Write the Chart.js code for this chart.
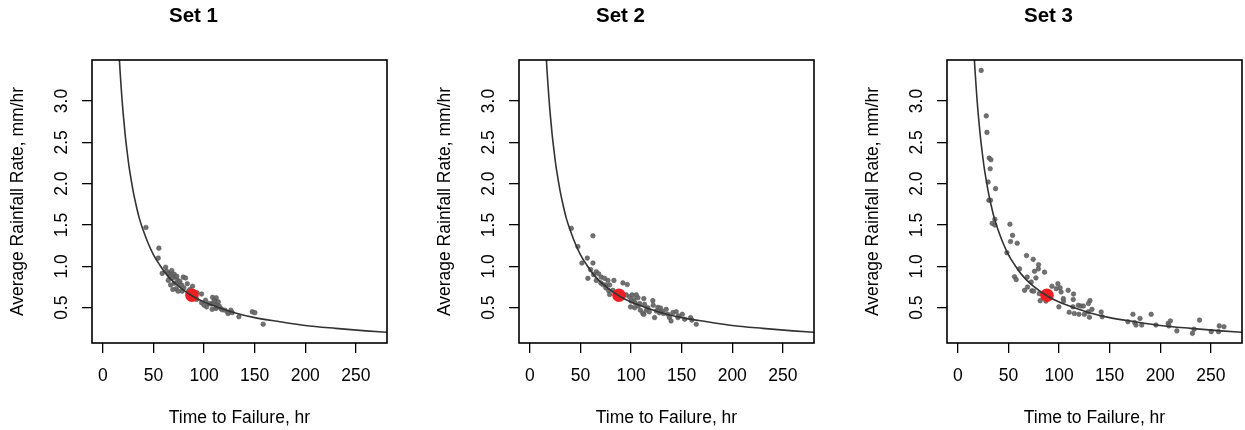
<!DOCTYPE html>
<html>
<head>
<meta charset="utf-8">
<script src="https://cdn.jsdelivr.net/npm/chart.js@4/dist/chart.umd.min.js"></script>
<style>
  html, body { margin: 0; padding: 0; background: #fff; overflow: hidden; }
  body { width: 1245px; height: 430px; position: relative; }
  canvas { position: absolute; top: 0; }
</style>
</head>
<body>
<canvas id="c1" width="479" height="430" style="left:0px"></canvas>
<canvas id="c2" width="479" height="430" style="left:427px"></canvas>
<canvas id="c3" width="479" height="430" style="left:855px"></canvas>
<script>
// ---- data ----
const panelTitles = ["Set 1", "Set 2", "Set 3"];
const xTitle = "Time to Failure, hr";
const yTitle = "Average Rainfall Rate, mm/hr";
const xTicks = [0, 50, 100, 150, 200, 250];
const yTicks = [0.5, 1.0, 1.5, 2.0, 2.5, 3.0];

// reference (red) point
const refX = [88];
const refY = [0.65];

// fitted curve
const curveX = [16, 17, 18, 19, 20, 22, 24, 26, 28, 30, 33, 36, 40, 45, 50, 56, 63, 70, 80, 90, 100, 115, 130, 150, 175, 200, 230, 260, 285];
const curveY = [3.56, 3.35, 3.17, 3.0, 2.85, 2.59, 2.38, 2.19, 2.04, 1.90, 1.73, 1.58, 1.43, 1.27, 1.14, 1.02, 0.90, 0.81, 0.71, 0.63, 0.57, 0.50, 0.44, 0.38, 0.33, 0.285, 0.25, 0.22, 0.20];

const set1X = [42.5, 55.3, 54.7, 62.0, 58.6, 64.6, 67.9, 70.5, 66.0, 69.0, 71.8, 73.8, 64.6, 79.4, 81.7, 66.9, 70.5, 75.5, 77.8, 83.4, 72.4, 69.1, 78.3, 74.3, 84.7, 88.6, 97.5, 92.6, 97.5, 101.5, 102.5, 107.4, 108.4, 110.7, 109.4, 112.4, 114.0, 111.7, 108.0, 116.6, 118.0, 120.6, 126.5, 127.8, 124.0, 134.4, 147.6, 150.2, 158.4, 110, 112, 113, 115, 105, 100, 86, 90, 93, 80, 76, 73, 68, 63, 123.6];
const set1Y = [1.47, 1.22, 1.10, 0.99, 0.915, 0.92, 0.92, 0.905, 0.875, 0.86, 0.875, 0.83, 0.83, 0.87, 0.86, 0.775, 0.795, 0.795, 0.775, 0.79, 0.73, 0.72, 0.70, 0.70, 0.70, 0.76, 0.665, 0.60, 0.56, 0.59, 0.51, 0.545, 0.625, 0.60, 0.56, 0.53, 0.57, 0.49, 0.48, 0.49, 0.475, 0.47, 0.47, 0.44, 0.44, 0.39, 0.45, 0.44, 0.30, 0.58, 0.62, 0.51, 0.52, 0.55, 0.53, 0.72, 0.69, 0.68, 0.74, 0.82, 0.88, 0.95, 0.94, 0.43];

const set2X = [40.9, 62.3, 47.4, 56.7, 51.4, 62.3, 57.3, 65.6, 67.9, 65.6, 70.5, 73.8, 77.1, 83.0, 74.8, 78.8, 91.9, 96.2, 77.8, 82.0, 78.8, 95.3, 98.6, 100.9, 105.1, 102.8, 106.8, 99.5, 103.5, 108.5, 112.6, 113.3, 109.2, 111.6, 112.6, 116.6, 121.5, 121.9, 123.2, 126.5, 129.1, 130.4, 128.1, 134.7, 136.4, 138.0, 141.3, 144.6, 146.3, 150.6, 158.8, 160.1, 164.4, 139.5, 70, 72, 75, 85, 88, 92, 100, 104, 107, 115, 118, 125, 132, 147, 153, 60, 63];
const set2Y = [1.46, 1.37, 1.24, 1.10, 1.04, 1.04, 0.855, 0.935, 0.91, 0.83, 0.87, 0.855, 0.83, 0.83, 0.775, 0.775, 0.80, 0.78, 0.705, 0.71, 0.66, 0.655, 0.63, 0.655, 0.655, 0.60, 0.62, 0.51, 0.50, 0.55, 0.61, 0.54, 0.47, 0.43, 0.42, 0.50, 0.585, 0.53, 0.38, 0.505, 0.495, 0.46, 0.44, 0.48, 0.42, 0.38, 0.44, 0.45, 0.38, 0.42, 0.38, 0.35, 0.30, 0.34, 0.80, 0.78, 0.74, 0.68, 0.62, 0.66, 0.58, 0.56, 0.52, 0.47, 0.45, 0.46, 0.43, 0.40, 0.36, 0.96, 0.90];

const set3X = [23.0, 28.0, 28.7, 30.9, 32.6, 31.9, 29.9, 37.2, 30.6, 32.2, 33.9, 36.5, 36.5, 51.4, 54.0, 52.0, 58.6, 48.4, 67.8, 74.4, 79.7, 79.5, 75.7, 85.6, 60.9, 56.0, 57.6, 68.5, 77.1, 72.5, 65.9, 68.8, 73.1, 80.4, 81.3, 87.0, 92.9, 98.8, 97.2, 101.0, 102.0, 109.0, 114.3, 114.0, 104.4, 130.5, 129.0, 99.8, 113.6, 119.0, 121.5, 124.0, 110.0, 115.0, 119.6, 125.0, 128.8, 132.5, 130.0, 141.6, 142.6, 173.0, 180.0, 191.0, 168.0, 174.6, 176.0, 181.7, 195.7, 207.8, 210.0, 208.5, 216.4, 231.8, 233.5, 238.8, 250.4, 257.6, 258.3, 263.0, 74.9, 104.2];
const set3Y = [3.37, 2.82, 2.62, 2.31, 2.29, 2.18, 2.02, 1.94, 1.80, 1.80, 1.52, 1.57, 1.50, 1.51, 1.375, 1.30, 1.28, 1.165, 1.13, 1.085, 1.02, 0.97, 0.94, 0.93, 0.97, 0.875, 0.84, 0.87, 0.86, 0.81, 0.71, 0.75, 0.705, 0.67, 0.585, 0.58, 0.76, 0.79, 0.73, 0.74, 0.69, 0.71, 0.665, 0.60, 0.58, 0.585, 0.55, 0.51, 0.51, 0.53, 0.52, 0.52, 0.445, 0.43, 0.42, 0.42, 0.45, 0.48, 0.385, 0.448, 0.39, 0.42, 0.37, 0.42, 0.33, 0.32, 0.29, 0.29, 0.29, 0.31, 0.34, 0.28, 0.22, 0.19, 0.24, 0.35, 0.21, 0.21, 0.28, 0.27, 0.70, 0.61];

const setsX = [set1X, set2X, set3X];
const setsY = [set1Y, set2Y, set3Y];

// axis limits (R-style 4% extension around data limits)
const xMin = -10.8, xMax = 280.8;
const yMin = 0.073, yMax = 3.496;

// ---- drawing ----
const FONT = "'Liberation Sans', Arial, Helvetica, sans-serif";
Chart.defaults.font.family = FONT;
Chart.defaults.color = '#000';

const frame = {
  id: 'frame',
  afterDraw(chart) {
    const a = chart.chartArea, ctx = chart.ctx;
    ctx.save();
    ctx.strokeStyle = '#000';
    ctx.lineWidth = 1.6;
    ctx.strokeRect(a.left, a.top, a.right - a.left, a.bottom - a.top);
    ctx.restore();
  }
};

const zip = (xs, ys) => xs.map((x, i) => ({ x: x, y: ys[i] }));

function makeChart(id, k) {
  new Chart(document.getElementById(id), {
    type: 'scatter',
    data: {
      datasets: [
        {
          data: zip(curveX, curveY), showLine: true, pointRadius: 0,
          borderColor: '#333', borderWidth: 1.6, cubicInterpolationMode: 'monotone', fill: false
        },
        {
          data: zip(refX, refY), pointRadius: 6.8, backgroundColor: '#EE2024', borderWidth: 0
        },
        {
          data: zip(setsX[k], setsY[k]), pointRadius: 2.3,
          backgroundColor: 'rgba(105,105,105,0.95)', borderColor: 'rgba(80,80,80,0.9)', borderWidth: 0.6
        }
      ]
    },
    options: {
      responsive: false, animation: false, devicePixelRatio: 1,
      layout: { padding: { left: 0, right: 92, top: 0, bottom: 0 } },
      plugins: {
        legend: { display: false }, tooltip: { enabled: false },
        title: {
          display: true, text: panelTitles[k], color: '#000',
          font: { size: 20.5, weight: 'bold', family: FONT },
          padding: { top: 4.4, bottom: 31 }
        }
      },
      scales: {
        x: {
          type: 'linear', min: xMin, max: xMax,
          afterBuildTicks: s => { s.ticks = xTicks.map(v => ({ value: v })); },
          afterFit: s => { s.height = 87; },
          ticks: { font: { size: 17.5 }, padding: 13, minRotation: 0, maxRotation: 0, autoSkip: false, color: '#000' },
          grid: { display: true, drawOnChartArea: false, drawTicks: true, tickLength: 10, color: '#000', lineWidth: 1.3 },
          border: { display: false },
          title: { display: true, text: xTitle, font: { size: 17.5 }, color: '#000', padding: { top: 0, bottom: 1.5 } }
        },
        y: {
          type: 'linear', min: yMin, max: yMax,
          afterBuildTicks: s => { s.ticks = yTicks.map(v => ({ value: v })); },
          afterFit: s => { s.width = 92; },
          ticks: {
            font: { size: 17.5 }, padding: 8, minRotation: 90, maxRotation: 90, crossAlign: 'center',
            autoSkip: false, color: '#000', callback: v => v.toFixed(1)
          },
          grid: { display: true, drawOnChartArea: false, drawTicks: true, tickLength: 10, color: '#000', lineWidth: 1.3 },
          border: { display: false },
          title: { display: true, text: yTitle, font: { size: 17.5 }, color: '#000', padding: { top: 8, bottom: 0 } }
        }
      }
    },
    plugins: [frame]
  });
}

makeChart('c1', 0);
makeChart('c2', 1);
makeChart('c3', 2);
</script>
</body>
</html>
